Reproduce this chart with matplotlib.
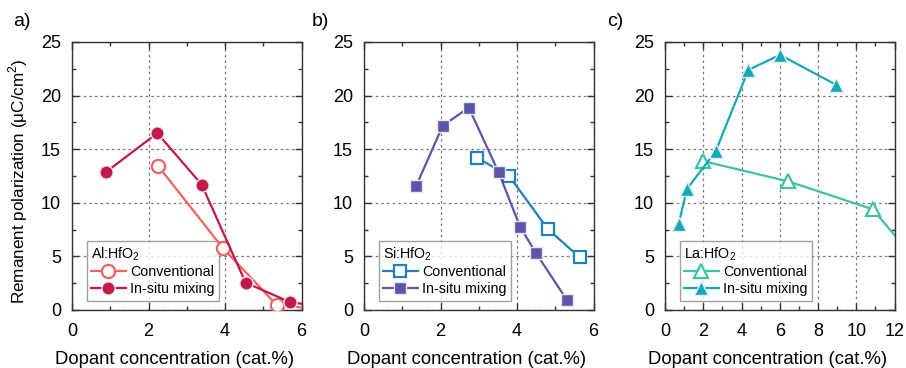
import matplotlib
matplotlib.use("Agg")
import matplotlib.pyplot as plt
from matplotlib.ticker import MultipleLocator

plt.rcParams['font.family'] = ['Liberation Sans', 'DejaVu Sans']
plt.rcParams['mathtext.fontset'] = 'custom'
plt.rcParams['mathtext.rm'] = 'Liberation Sans'

# Panel a: Al:HfO2
al_conv_x = [2.26, 3.94, 5.35, 6.4]
al_conv_y = [13.4, 5.8, 0.47, 0.1]
al_ins_x = [0.89, 2.23, 3.39, 4.54, 5.71, 6.4]
al_ins_y = [12.87, 16.5, 11.7, 2.55, 0.72, 0.4]

# Panel b: Si:HfO2
si_conv_x = [2.96, 3.80, 4.81, 5.64]
si_conv_y = [14.2, 12.47, 7.53, 4.91]
si_ins_x = [1.36, 2.06, 2.74, 3.52, 4.08, 4.50, 5.30]
si_ins_y = [11.54, 17.2, 18.87, 12.84, 7.77, 5.29, 0.96]

# Panel c: La:HfO2
la_conv_x = [1.97, 6.44, 10.87, 12.6]
la_conv_y = [13.9, 12.0, 9.39, 5.7]
la_ins_x = [0.71, 1.15, 2.65, 4.36, 6.02, 8.95]
la_ins_y = [8.0, 11.3, 14.8, 22.4, 23.8, 21.0]

panels = [
    dict(label='a)', title='Al:HfO$_2$', xmax=6, xmaj=2, xmin=1,
         conv=(al_conv_x, al_conv_y), ins=(al_ins_x, al_ins_y),
         cconv='#F2635C', cins='#C2184C', mk='o', ms=9.5),
    dict(label='b)', title='Si:HfO$_2$', xmax=6, xmaj=2, xmin=1,
         conv=(si_conv_x, si_conv_y), ins=(si_ins_x, si_ins_y),
         cconv='#1F80C4', cins='#5B55AB', mk='s', ms=8.5),
    dict(label='c)', title='La:HfO$_2$', xmax=12, xmaj=2, xmin=1,
         conv=(la_conv_x, la_conv_y), ins=(la_ins_x, la_ins_y),
         cconv='#3EC2A2', cins='#13A9B9', mk='^', ms=10),
]

fig = plt.figure(figsize=(9.06, 3.68), dpi=100)
lefts = [72, 364, 665]
label_x = [13, 312, 607]
for i, p in enumerate(panels):
    ax = fig.add_axes([lefts[i] / 906, 58 / 368, 229.5 / 906, 268 / 368])
    ax.set_xlim(0, p['xmax'])
    ax.set_ylim(0, 25)
    ax.xaxis.set_major_locator(MultipleLocator(p['xmaj']))
    ax.xaxis.set_minor_locator(MultipleLocator(p['xmin']))
    ax.yaxis.set_major_locator(MultipleLocator(5))
    ax.yaxis.set_minor_locator(MultipleLocator(2.5))
    ax.tick_params(which='both', direction='in', top=True, right=True,
                   labelsize=13, width=1, colors='#333333', labelcolor='black')
    ax.tick_params(which='major', length=5)
    ax.tick_params(which='minor', length=3)
    ax.tick_params(axis='x', which='major', pad=9)
    ax.tick_params(axis='y', which='major', pad=8)
    ax.grid(True, which='major', linestyle=(0, (2, 2.5)), color='#777777', linewidth=0.9)
    for s in ax.spines.values():
        s.set_linewidth(1.0)
        s.set_color('#333333')
    cx, cy = p['conv']
    ix, iy = p['ins']
    ax.plot(cx, cy, color=p['cconv'], lw=1.6, marker=p['mk'], ms=p['ms'],
            mfc='white', mec=p['cconv'], mew=1.6, label='Conventional', zorder=3)
    ax.plot(ix, iy, color=p['cins'], lw=1.6, marker=p['mk'], ms=p['ms'],
            mfc=p['cins'], mec='#e8e8f0', mew=1.0, label='In-situ mixing', zorder=4)
    ax.set_xlabel('Dopant concentration (cat.%)', fontsize=13.3)
    ax.xaxis.set_label_coords(0.5 - 12 / 229.5, -0.152, transform=ax.transAxes)
    ax.xaxis.label.set_va('top')
    if i == 0:
        ax.set_ylabel('Remanent polarization (\u03bcC/cm$^2$)', fontsize=12.3)
        ax.yaxis.set_label_coords(-0.185, 0.48)
    leg = ax.legend(loc='lower left', bbox_to_anchor=(0.065, 0.035), fontsize=10.3,
                    title=p['title'], title_fontsize=10.3, frameon=True, fancybox=False,
                    edgecolor='#888888', handlelength=2.4, handletextpad=0.3,
                    borderpad=0.3, labelspacing=0.2, borderaxespad=0.0)
    leg._legend_box.align = 'left'
    leg.get_frame().set_linewidth(1.0)
    leg.set_zorder(2.5)
    fig.text(label_x[i] / 906, 1 - 22 / 368, p['label'], fontsize=14,
             ha='left', va='center')

fig.savefig('out.png', dpi=100)
